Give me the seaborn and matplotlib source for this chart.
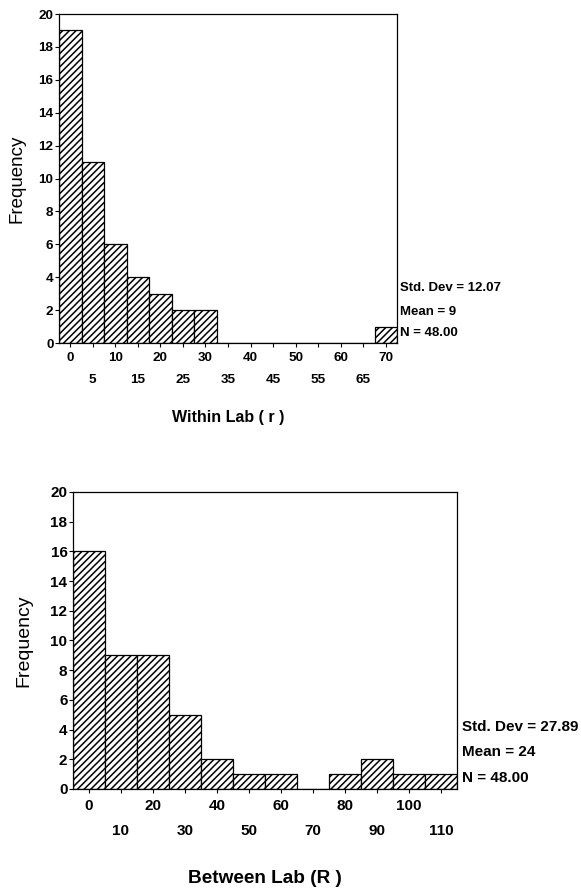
import numpy as np
import pandas as pd
import matplotlib
matplotlib.use("Agg")
import matplotlib.pyplot as plt
from matplotlib.ticker import FixedLocator, FixedFormatter
import seaborn as sns

# Within-lab repeatability (r): bin centres and counts
within_centers = [0, 5, 10, 15, 20, 25, 30, 35, 40, 45, 50, 55, 60, 65, 70]
within_counts = [19, 11, 6, 4, 3, 2, 2, 0, 0, 0, 0, 0, 0, 0, 1]
within_stats = ["Std. Dev = 12.07", "Mean = 9", "N = 48.00"]

# Between-lab reproducibility (R): bin centres and counts
between_centers = [0, 10, 20, 30, 40, 50, 60, 70, 80, 90, 100, 110]
between_counts = [16, 9, 9, 5, 2, 1, 1, 0, 1, 2, 1, 1]
between_stats = ["Std. Dev = 27.89", "Mean = 24", "N = 48.00"]

sns.set_style("white")
plt.rcParams["font.family"] = ["Liberation Sans", "DejaVu Sans"]
plt.rcParams["hatch.linewidth"] = 1.1
plt.rcParams["text.color"] = "black"
plt.rcParams["axes.labelcolor"] = "black"
plt.rcParams["xtick.color"] = "black"
plt.rcParams["ytick.color"] = "black"

fig = plt.figure(figsize=(5.81, 8.88), dpi=100)
ax1 = fig.add_axes([0.1015, 0.6137, 0.582, 0.3705])
ax2 = fig.add_axes([0.1256, 0.1115, 0.661, 0.3345])


def draw_hist(ax, centers, counts, width, major, minor, ylab_x, xlab_y,
              stats, stats_x, stats_y, tick_fs, ylab_fs, xlab_fs, stat_fs,
              xlabel, major_pad, minor_pad):
    df = pd.DataFrame({"value": np.asarray(centers, dtype=float),
                       "count": np.asarray(counts, dtype=float)})
    edges = list(np.append(df["value"] - width / 2,
                           df["value"].iloc[-1] + width / 2))
    sns.histplot(data=df, x="value", weights="count", bins=edges, ax=ax,
                 stat="count", color="white", edgecolor="black",
                 linewidth=0.9, alpha=1)
    for p in ax.patches:
        p.set_hatch("/////")
        p.set_facecolor("white")
    ax.set_xlim(edges[0], edges[-1])
    ax.set_ylim(0, 20)
    ax.set_yticks(range(0, 21, 2))
    ax.tick_params(axis="y", direction="out", length=3, width=0.8,
                   pad=1, labelsize=tick_fs, left=True)
    for t in ax.get_yticklabels():
        t.set_fontweight("bold")
    ax.xaxis.set_major_locator(FixedLocator(major))
    ax.xaxis.set_major_formatter(FixedFormatter([str(v) for v in major]))
    ax.xaxis.set_minor_locator(FixedLocator(minor))
    ax.xaxis.set_minor_formatter(FixedFormatter([str(v) for v in minor]))
    ax.tick_params(axis="x", which="major", direction="out", length=3,
                   width=0.8, pad=major_pad, labelsize=tick_fs, bottom=True)
    ax.tick_params(axis="x", which="minor", direction="out", length=3,
                   width=0.8, pad=minor_pad, labelsize=tick_fs, bottom=True)
    for t in ax.get_xticklabels(which="both"):
        t.set_fontweight("bold")
    for s in ax.spines.values():
        s.set_visible(True)
        s.set_color("black")
        s.set_linewidth(0.9)
    ax.set_ylabel("Frequency", fontsize=ylab_fs)
    ax.yaxis.set_label_coords(ylab_x, 0.5)
    ax.set_xlabel(xlabel, fontsize=xlab_fs, fontweight="bold")
    ax.xaxis.set_label_coords(0.5, xlab_y)
    for txt, yy in zip(stats, stats_y):
        ax.text(stats_x, yy, txt, transform=ax.transAxes, ha="left",
                va="center", fontsize=stat_fs, fontweight="bold")


draw_hist(ax1, within_centers, within_counts, 5,
          major=list(range(0, 71, 10)), minor=list(range(5, 66, 10)),
          ylab_x=-0.10, xlab_y=-0.205,
          stats=within_stats, stats_x=1.009, stats_y=[0.167, 0.094, 0.030],
          tick_fs=9.7, ylab_fs=13.5, xlab_fs=11.5, stat_fs=9.5,
          xlabel="Within Lab ( r )", major_pad=3.8, minor_pad=19.5)

draw_hist(ax2, between_centers, between_counts, 10,
          major=list(range(0, 101, 20)), minor=list(range(10, 111, 20)),
          ylab_x=-0.107, xlab_y=-0.272,
          stats=between_stats, stats_x=1.013, stats_y=[0.208, 0.124, 0.037],
          tick_fs=11, ylab_fs=14, xlab_fs=13.7, stat_fs=11,
          xlabel="Between Lab (R )", major_pad=4.5, minor_pad=22)

fig.savefig("out.png", dpi=100)
